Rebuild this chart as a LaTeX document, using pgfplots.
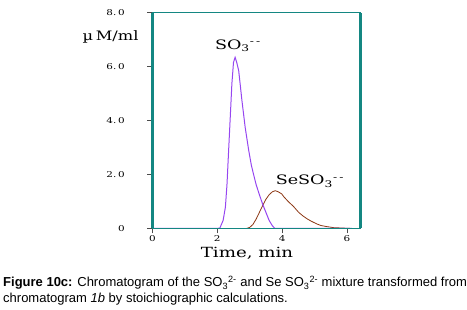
\documentclass[border=0pt]{standalone}
\usepackage{pgfplots}
\pgfplotsset{compat=1.18}
\usepackage{fontspec}
\setmainfont{DejaVu Serif}
\newfontfamily\capfont{Liberation Sans}
\definecolor{frameteal}{RGB}{20,135,130}
\definecolor{sopurple}{RGB}{150,70,240}
\definecolor{sebrown}{RGB}{140,55,20}
\begin{document}
\begin{tikzpicture}[x=1pt,y=1pt]
\useasboundingbox (0,0) rectangle (467,310);
\begin{axis}[
  at={(152.5pt,81.5pt)}, anchor=south west,
  scale only axis, width=208pt, height=216pt,
  xmin=0, xmax=6.42, ymin=0, ymax=8,
  axis line style={draw=none},
  xtick={0,2,4,6}, xticklabels={0,2,4,6},
  ytick={0,2,4,6,8}, yticklabels={0,2.\,0,4.\,0,6.\,0,8.\,0},
  tick align=outside, major tick length=5pt,
  tick style={black!70, line width=0.6pt},
  xtick pos=bottom, ytick pos=left,
  ticklabel style={font=\fontsize{8}{9}\selectfont, xscale=1.3},
  yticklabel style={xshift=-14pt},
  xticklabel style={yshift=1pt},
  clip=false,
]
\addplot[sebrown, line width=0.8pt] coordinates {
(0,0) (2.9,0) (3.0,0.04) (3.1,0.15) (3.2,0.35) (3.3,0.6) (3.4,0.85) (3.5,1.08) (3.6,1.25) (3.7,1.36) (3.79,1.40) (3.88,1.36) (3.99,1.28) (4.05,1.18) (4.15,1.05) (4.25,0.93) (4.35,0.82) (4.51,0.6) (4.65,0.46) (4.77,0.36) (4.9,0.27) (5.07,0.17) (5.2,0.11) (5.38,0.07) (5.6,0.03) (5.8,0.02) (6.15,0)
};
\addplot[sopurple, line width=1pt] coordinates {
(0,0) (2.0,0) (2.08,0.02) (2.18,0.3) (2.25,0.79) (2.30,1.65) (2.35,2.9) (2.40,4.12) (2.45,5.36) (2.50,6.15) (2.55,6.34) (2.60,6.15) (2.66,5.85) (2.71,5.3) (2.76,4.74) (2.81,4.25) (2.86,3.75) (2.97,2.89) (3.05,2.35) (3.12,2.0) (3.2,1.62) (3.3,1.25) (3.4,0.9) (3.5,0.6) (3.6,0.3) (3.7,0.1) (3.78,0) (6.15,0)
};
\draw[frameteal, line width=3pt] (rel axis cs:0,0) -- (rel axis cs:0,1);
\draw[frameteal, line width=3pt] (rel axis cs:1,0) -- (rel axis cs:1,1);
\draw[frameteal, line width=1.6pt] (rel axis cs:0,1) -- (rel axis cs:1,1);
\draw[frameteal, line width=1.6pt] (rel axis cs:0,0) -- (rel axis cs:1,0);
\node[font=\fontsize{13}{13}\selectfont, xscale=1.35] at (axis cs:2.64,6.77) {SO\textsubscript{3}\textsuperscript{-\,-}};
\node[font=\fontsize{13}{13}\selectfont, xscale=1.35] at (axis cs:4.86,1.76) {SeSO\textsubscript{3}\textsuperscript{-\,-}};
\end{axis}
\node[font=\fontsize{13}{13}\selectfont, xscale=1.25, anchor=east] at (143,273) {µ\,M/ml};
\node[font=\fontsize{14}{14}\selectfont, xscale=1.3] at (247,57) {Time, min};
\node[font=\capfont\fontsize{13}{15.5}\selectfont, anchor=north west, align=left, inner sep=0pt] at (3,34)
{\textbf{Figure 10c:} Chromatogram of the SO\textsubscript{3}\textsuperscript{2-} and Se SO\textsubscript{3}\textsuperscript{2-} mixture transformed from\\
chromatogram \textit{1b} by stoichiographic calculations.};
\end{tikzpicture}
\end{document}
